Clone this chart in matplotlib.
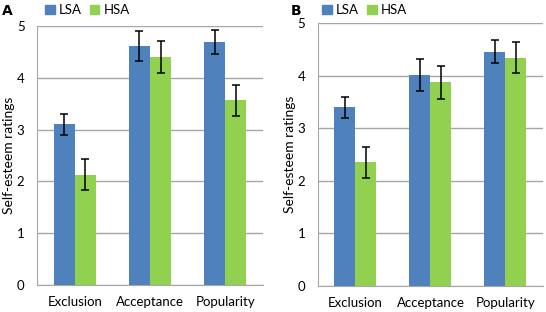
import numpy as np
import matplotlib.pyplot as plt
from matplotlib.patches import Patch

plt.rcParams['font.family'] = ['Lato', 'DejaVu Sans']

categories = ['Exclusion', 'Acceptance', 'Popularity']
groups = ['LSA', 'HSA']

lsa_a = [3.10, 4.62, 4.70]
lsa_a_err = [0.20, 0.29, 0.23]
hsa_a = [2.13, 4.41, 3.57]
hsa_a_err = [0.30, 0.31, 0.30]

lsa_b = [3.40, 4.01, 4.45]
lsa_b_err = [0.20, 0.30, 0.22]
hsa_b = [2.35, 3.87, 4.34]
hsa_b_err = [0.29, 0.32, 0.29]

blue = '#4F81BD'
green = '#92D050'
grid_col = '#A6A6A6'

fig = plt.figure(figsize=(5.46, 3.12), dpi=100)
ax_a = fig.add_axes([0.0678, 0.0865, 0.414, 0.830])
ax_b = fig.add_axes([0.5824, 0.0833, 0.412, 0.843])


def draw_panel(ax, lsa, lsa_err, hsa, hsa_err, label, lx, legx):
    x = np.arange(len(categories))
    w = 0.28
    ebar = dict(ecolor='black', elinewidth=1.1, capsize=3, capthick=1.1)
    ax.bar(x - w / 2, lsa, w, color=blue, yerr=lsa_err, error_kw=ebar, zorder=3)
    ax.bar(x + w / 2, hsa, w, color=green, yerr=hsa_err, error_kw=ebar, zorder=3)
    ax.set_xlim(-0.5, 2.5)
    ax.set_ylim(0, 5)
    ax.set_yticks([0, 1, 2, 3, 4, 5])
    ax.set_xticks(x)
    ax.set_xticklabels(categories)
    ax.yaxis.grid(True, color=grid_col, linewidth=1, zorder=0)
    ax.set_axisbelow(True)
    for s in ['top', 'right']:
        ax.spines[s].set_visible(False)
    ax.spines['left'].set_color(grid_col)
    ax.spines['bottom'].set_color(grid_col)
    ax.tick_params(axis='both', length=0, labelsize=9.5, colors='black')
    ax.tick_params(axis='x', pad=8)
    ax.tick_params(axis='y', pad=9)
    ax.set_ylabel('Self-esteem ratings', fontsize=10)
    ax.yaxis.set_label_coords(-0.098, 0.5)
    fig.text(lx, 0.965, label, fontsize=10, fontweight='bold', va='center', ha='left',
             family='DejaVu Sans')
    handles = [Patch(color=blue, label=groups[0]), Patch(color=green, label=groups[1])]
    ax.legend(handles=handles, loc='center left', bbox_to_anchor=(legx, 0.968),
              bbox_transform=fig.transFigure, ncol=2, frameon=False, fontsize=9.5,
              handlelength=0.75, handleheight=0.75, handletextpad=0.3,
              columnspacing=0.6, borderpad=0, borderaxespad=0)


draw_panel(ax_a, lsa_a, lsa_a_err, hsa_a, hsa_a_err, 'A', 0.004, 0.082)
draw_panel(ax_b, lsa_b, lsa_b_err, hsa_b, hsa_b_err, 'B', 0.532, 0.590)

fig.savefig('out.png', dpi=100)
